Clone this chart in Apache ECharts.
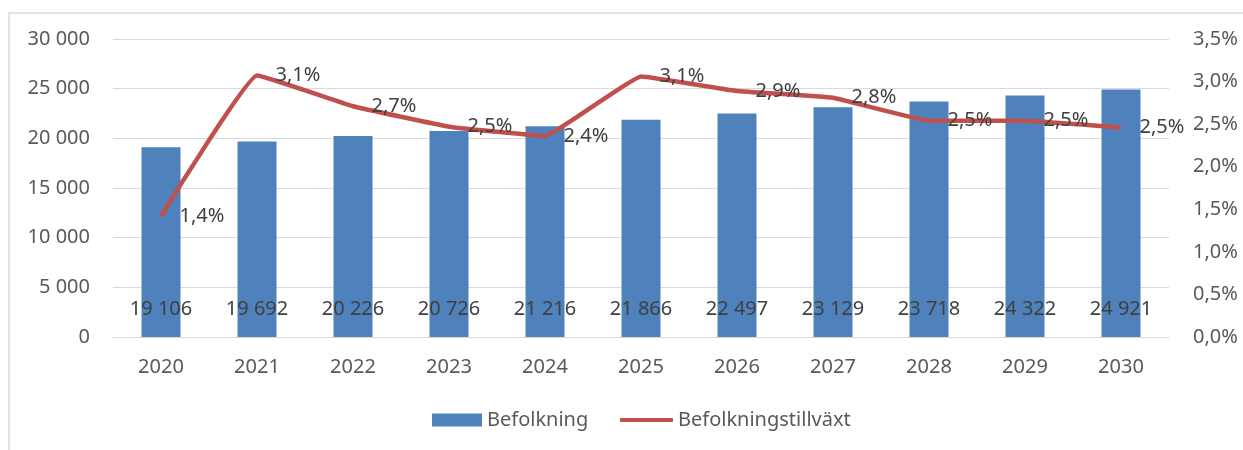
<!DOCTYPE html>
<html>
<head>
<meta charset="utf-8">
<script src="https://cdn.jsdelivr.net/npm/echarts@6/dist/echarts.min.js"></script>
<style>
  html, body { margin: 0; padding: 0; background: #fff; }
  #frame { position: absolute; left: 8px; top: 12px; right: -2px; bottom: -2px; border-left: 2px solid #e3e3e3; border-top: 2px solid #e3e3e3; }
  #chart { position: absolute; left: 0; top: 0; width: 1243px; height: 450px; }
</style>
</head>
<body>
<div id="frame"></div>
<div id="chart"></div>
<script>
const years = ["2020", "2021", "2022", "2023", "2024", "2025", "2026", "2027", "2028", "2029", "2030"];
const befolkning = [19106, 19692, 20226, 20726, 21216, 21866, 22497, 23129, 23718, 24322, 24921];
const tillvaxt = [1.42, 3.07, 2.71, 2.47, 2.36, 3.06, 2.89, 2.81, 2.54, 2.54, 2.46];

const FONT = "Noto Sans";
const RED = "#c0504d";

function tusental(v) {
  return String(v).replace(/\B(?=(\d{3})+(?!\d))/g, " ");
}
function procent(v) {
  return v.toFixed(1).replace(".", ",") + "%";
}

const chart = echarts.init(document.getElementById("chart"));
chart.setOption({
  animation: false,
  textStyle: { fontFamily: FONT },
  grid: { left: 113, right: 74, top: 39, bottom: 113 },
  legend: [
    {
      data: [{ name: "Befolkning", icon: "rect" }],
      left: 427, top: 405,
      itemWidth: 50, itemHeight: 13, itemGap: 6,
      textStyle: { fontFamily: FONT, fontSize: 20, color: "#595959" }
    },
    {
      data: [{ name: "Befolkningstillväxt", icon: "roundRect", itemStyle: { color: RED } }],
      left: 615, top: 405,
      itemWidth: 53, itemHeight: 4, itemGap: 6,
      textStyle: { fontFamily: FONT, fontSize: 20, color: "#595959" }
    }
  ],
  xAxis: {
    type: "category",
    data: years,
    axisTick: { show: false },
    axisLine: { lineStyle: { color: "#d9d9d9", width: 1 } },
    axisLabel: { fontFamily: FONT, fontSize: 20, color: "#595959", margin: 20 }
  },
  yAxis: [
    {
      type: "value", min: 0, max: 30000, interval: 5000,
      axisLine: { show: false }, axisTick: { show: false },
      splitLine: { lineStyle: { color: "#d9d9d9", width: 1 } },
      axisLabel: { fontFamily: FONT, fontSize: 20, color: "#595959", margin: 23, formatter: tusental }
    },
    {
      type: "value", min: 0, max: 3.5, interval: 0.5,
      axisLine: { show: false }, axisTick: { show: false },
      splitLine: { show: false },
      axisLabel: { fontFamily: FONT, fontSize: 20, color: "#595959", margin: 24, formatter: procent }
    }
  ],
  series: [
    {
      name: "Befolkning",
      type: "bar",
      data: befolkning,
      barWidth: 39,
      itemStyle: { color: "#4f81bd" },
      label: {
        show: true, position: "insideBottom", distance: 18,
        fontFamily: FONT, fontSize: 20, color: "#404040",
        formatter: (p) => tusental(p.value)
      }
    },
    {
      name: "Befolkningstillväxt",
      type: "line",
      yAxisIndex: 1,
      data: tillvaxt,
      smooth: 0.08,
      symbol: "circle",
      symbolSize: 1,
      itemStyle: { color: "rgba(0,0,0,0)" },
      lineStyle: { color: RED, width: 4.5 },
      label: {
        show: true, position: "right", distance: 18,
        fontFamily: FONT, fontSize: 20, color: "#404040",
        formatter: (p) => procent(p.value)
      }
    }
  ]
});
</script>
</body>
</html>
